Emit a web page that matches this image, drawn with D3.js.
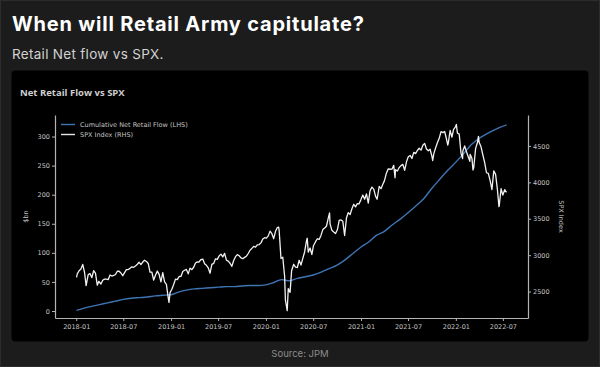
<!DOCTYPE html>
<html>
<head>
<meta charset="utf-8">
<script src="https://cdn.jsdelivr.net/npm/d3@7"></script>
<style>
  html, body { margin: 0; padding: 0; background: #1c1c1c; }
  svg { display: block; }
</style>
</head>
<body>
<svg id="chart"></svg>
<script>
// tick values
const flowTicks = [0, 50, 100, 150, 200, 250, 300];
const spxTicks = [2500, 3000, 3500, 4000, 4500];
const dateTicks = ["2018-01", "2018-07", "2019-01", "2019-07", "2020-01", "2020-07", "2021-01", "2021-07", "2022-01", "2022-07"];

// cumulative net retail flow, $bn (LHS)
const netFlow = [
    ["2018-01-02", 1], ["2018-02-01", 5], ["2018-03-01", 8], ["2018-04-01", 11], ["2018-05-01", 14],
    ["2018-06-01", 17], ["2018-07-01", 20], ["2018-08-01", 22], ["2018-09-01", 23], ["2018-10-01", 24],
    ["2018-11-01", 26], ["2018-12-01", 27], ["2019-01-01", 28], ["2019-02-01", 33], ["2019-03-01", 36],
    ["2019-04-01", 38], ["2019-05-01", 39], ["2019-06-01", 40], ["2019-07-01", 41], ["2019-08-01", 42],
    ["2019-09-01", 42], ["2019-10-01", 43], ["2019-11-01", 44], ["2019-12-01", 44], ["2020-01-01", 45],
    ["2020-02-01", 49], ["2020-03-01", 54], ["2020-04-01", 52], ["2020-05-01", 56], ["2020-06-01", 59],
    ["2020-07-01", 62], ["2020-08-01", 67], ["2020-09-01", 73], ["2020-10-01", 79], ["2020-11-01", 88],
    ["2020-12-01", 99], ["2021-01-01", 110], ["2021-02-01", 119], ["2021-03-01", 130], ["2021-04-01", 137],
    ["2021-05-01", 148], ["2021-06-01", 158], ["2021-07-01", 169], ["2021-08-01", 181], ["2021-09-01", 194],
    ["2021-10-01", 211], ["2021-11-01", 227], ["2021-12-01", 242], ["2022-01-01", 256], ["2022-02-01", 271],
    ["2022-03-01", 286], ["2022-04-01", 297], ["2022-05-01", 305], ["2022-06-01", 312], ["2022-07-15", 320]
];

// SPX index (RHS)
const spx = [
    ["2018-01-02", 2695], ["2018-01-05", 2743], ["2018-01-12", 2786], ["2018-01-19", 2810], ["2018-01-26", 2873],
    ["2018-02-02", 2762], ["2018-02-08", 2581], ["2018-02-16", 2732], ["2018-02-23", 2747], ["2018-03-02", 2691],
    ["2018-03-09", 2786], ["2018-03-16", 2752], ["2018-03-23", 2588], ["2018-03-29", 2641], ["2018-04-06", 2604],
    ["2018-04-13", 2656], ["2018-04-20", 2670], ["2018-04-27", 2670], ["2018-05-04", 2663], ["2018-05-11", 2728],
    ["2018-05-18", 2713], ["2018-05-25", 2721], ["2018-06-01", 2735], ["2018-06-08", 2779], ["2018-06-15", 2780],
    ["2018-06-22", 2755], ["2018-06-29", 2718], ["2018-07-06", 2760], ["2018-07-13", 2801], ["2018-07-20", 2802],
    ["2018-07-27", 2819], ["2018-08-03", 2840], ["2018-08-10", 2833], ["2018-08-17", 2850], ["2018-08-24", 2875],
    ["2018-08-31", 2902], ["2018-09-07", 2872], ["2018-09-14", 2905], ["2018-09-21", 2930], ["2018-09-28", 2914],
    ["2018-10-05", 2886], ["2018-10-12", 2767], ["2018-10-19", 2768], ["2018-10-26", 2659], ["2018-11-02", 2723],
    ["2018-11-09", 2781], ["2018-11-16", 2736], ["2018-11-23", 2633], ["2018-11-30", 2760], ["2018-12-07", 2633],
    ["2018-12-14", 2600], ["2018-12-21", 2417], ["2018-12-24", 2351], ["2018-12-28", 2486],
    ["2019-01-04", 2532], ["2019-01-11", 2596], ["2019-01-18", 2671], ["2019-01-25", 2665], ["2019-02-01", 2707],
    ["2019-02-08", 2708], ["2019-02-15", 2776], ["2019-02-22", 2793], ["2019-03-01", 2804], ["2019-03-08", 2743],
    ["2019-03-15", 2822], ["2019-03-22", 2801], ["2019-03-29", 2834], ["2019-04-05", 2893], ["2019-04-12", 2907],
    ["2019-04-18", 2905], ["2019-04-26", 2940], ["2019-05-03", 2946], ["2019-05-10", 2881], ["2019-05-17", 2860],
    ["2019-05-24", 2826], ["2019-05-31", 2752], ["2019-06-07", 2873], ["2019-06-14", 2887], ["2019-06-21", 2950],
    ["2019-06-28", 2942], ["2019-07-05", 2990], ["2019-07-12", 3014], ["2019-07-19", 2977], ["2019-07-26", 3025],
    ["2019-08-02", 2932], ["2019-08-09", 2919], ["2019-08-16", 2889], ["2019-08-23", 2847], ["2019-08-30", 2926],
    ["2019-09-06", 2979], ["2019-09-13", 3007], ["2019-09-20", 2992], ["2019-09-27", 2962], ["2019-10-04", 2952],
    ["2019-10-11", 2970], ["2019-10-18", 2986], ["2019-10-25", 3023], ["2019-11-01", 3067], ["2019-11-08", 3093],
    ["2019-11-15", 3120], ["2019-11-22", 3110], ["2019-11-29", 3141], ["2019-12-06", 3146], ["2019-12-13", 3169],
    ["2019-12-20", 3221], ["2019-12-27", 3240],
    ["2020-01-03", 3235], ["2020-01-10", 3265], ["2020-01-17", 3330], ["2020-01-24", 3295], ["2020-01-31", 3226],
    ["2020-02-07", 3328], ["2020-02-14", 3380], ["2020-02-19", 3386], ["2020-02-21", 3338], ["2020-02-28", 2954],
    ["2020-03-06", 2972], ["2020-03-13", 2711], ["2020-03-16", 2386], ["2020-03-20", 2305], ["2020-03-23", 2237],
    ["2020-03-27", 2541], ["2020-04-03", 2489], ["2020-04-09", 2790], ["2020-04-17", 2875], ["2020-04-24", 2837],
    ["2020-05-01", 2831], ["2020-05-08", 2930], ["2020-05-15", 2864], ["2020-05-22", 2955], ["2020-05-29", 3044],
    ["2020-06-05", 3194], ["2020-06-08", 3232], ["2020-06-12", 3041], ["2020-06-19", 3098], ["2020-06-26", 3009],
    ["2020-07-02", 3130], ["2020-07-10", 3185], ["2020-07-17", 3225], ["2020-07-24", 3216], ["2020-07-31", 3271],
    ["2020-08-07", 3351], ["2020-08-14", 3373], ["2020-08-21", 3397], ["2020-08-28", 3508], ["2020-09-02", 3580],
    ["2020-09-04", 3427], ["2020-09-11", 3341], ["2020-09-18", 3319], ["2020-09-25", 3298], ["2020-10-02", 3348],
    ["2020-10-09", 3477], ["2020-10-16", 3484], ["2020-10-23", 3465], ["2020-10-30", 3270], ["2020-11-06", 3510],
    ["2020-11-13", 3585], ["2020-11-20", 3558], ["2020-11-27", 3638], ["2020-12-04", 3699], ["2020-12-11", 3663],
    ["2020-12-18", 3709], ["2020-12-24", 3703], ["2020-12-31", 3756],
    ["2021-01-08", 3825], ["2021-01-15", 3768], ["2021-01-22", 3841], ["2021-01-29", 3714], ["2021-02-05", 3887],
    ["2021-02-12", 3934], ["2021-02-19", 3907], ["2021-02-26", 3811], ["2021-03-04", 3768], ["2021-03-12", 3943],
    ["2021-03-19", 3913], ["2021-03-26", 3975], ["2021-04-01", 4020], ["2021-04-09", 4129], ["2021-04-16", 4185],
    ["2021-04-23", 4180], ["2021-04-30", 4181], ["2021-05-07", 4233], ["2021-05-12", 4063], ["2021-05-14", 4174],
    ["2021-05-21", 4156], ["2021-05-28", 4204], ["2021-06-04", 4230], ["2021-06-11", 4247], ["2021-06-18", 4166],
    ["2021-06-25", 4281], ["2021-07-02", 4352], ["2021-07-09", 4370], ["2021-07-16", 4327], ["2021-07-23", 4412],
    ["2021-07-30", 4395], ["2021-08-06", 4437], ["2021-08-13", 4468], ["2021-08-20", 4442], ["2021-08-27", 4509],
    ["2021-09-03", 4535], ["2021-09-10", 4459], ["2021-09-17", 4433], ["2021-09-24", 4455], ["2021-10-01", 4357],
    ["2021-10-04", 4300], ["2021-10-08", 4391], ["2021-10-15", 4471], ["2021-10-22", 4545], ["2021-10-29", 4605],
    ["2021-11-05", 4697], ["2021-11-12", 4683], ["2021-11-19", 4698], ["2021-11-26", 4595], ["2021-12-01", 4513],
    ["2021-12-03", 4538], ["2021-12-10", 4712], ["2021-12-17", 4620], ["2021-12-23", 4725], ["2021-12-31", 4766],
    ["2022-01-03", 4796], ["2022-01-07", 4677], ["2022-01-14", 4662], ["2022-01-21", 4398], ["2022-01-27", 4326],
    ["2022-01-28", 4432], ["2022-02-04", 4500], ["2022-02-11", 4419], ["2022-02-18", 4349], ["2022-02-24", 4288],
    ["2022-02-25", 4385], ["2022-03-04", 4329], ["2022-03-08", 4170], ["2022-03-11", 4204], ["2022-03-18", 4463],
    ["2022-03-25", 4543], ["2022-03-29", 4631], ["2022-04-01", 4546], ["2022-04-08", 4488], ["2022-04-14", 4393],
    ["2022-04-22", 4272], ["2022-04-29", 4132], ["2022-05-06", 4123], ["2022-05-13", 4023], ["2022-05-20", 3901],
    ["2022-05-27", 4158], ["2022-06-03", 4109], ["2022-06-10", 3901], ["2022-06-16", 3667], ["2022-06-17", 3675],
    ["2022-06-24", 3912], ["2022-07-01", 3825], ["2022-07-08", 3899], ["2022-07-15", 3863]
];

const W = 600, H = 367;
const plot = { left: 55, right: 528, top: 115, bottom: 318 };
const parseDay = d3.utcParse("%Y-%m-%d");
const parseMonth = d3.utcParse("%Y-%m");
const tickFont = "DejaVu Sans, sans-serif";

const flowData = netFlow.map(([d, v]) => ({ date: parseDay(d), value: v }));
const spxData = spx.map(([d, v]) => ({ date: parseDay(d), value: v }));

const svg = d3.select("#chart").attr("width", W).attr("height", H);

// page + black chart panel
svg.append("rect").attr("x", 0.5).attr("y", 0.5).attr("width", W - 1).attr("height", H - 1)
    .attr("fill", "#1c1c1c").attr("stroke", "#2c2c2c");
svg.append("rect").attr("x", 11.5).attr("y", 70.5).attr("width", 577).attr("height", 271).attr("rx", 4)
    .attr("fill", "#000");

svg.append("text").attr("x", 12).attr("y", 31)
    .style("font-family", "Inter, sans-serif").style("font-weight", 700).style("font-size", "20px")
    .style("letter-spacing", "0.8px")
    .attr("fill", "#ffffff").text("When will Retail Army capitulate?");
svg.append("text").attr("x", 12).attr("y", 59)
    .style("font-family", "Inter, sans-serif").style("font-size", "13.5px").style("letter-spacing", "0.3px")
    .attr("fill", "#d2d2d2").text("Retail Net flow vs SPX.");
svg.append("text").attr("x", 300).attr("y", 357).attr("text-anchor", "middle")
    .style("font-family", "Inter, sans-serif").style("font-size", "9.5px")
    .attr("fill", "#8c8c8c").text("Source: JPM");

svg.append("text").attr("x", 20).attr("y", 96)
    .style("font-family", "Open Sans, sans-serif").style("font-weight", 700).style("font-size", "9.5px")
    .attr("fill", "#cfcfcf").text("Net Retail Flow vs SPX");

// scales
const dateExtent = d3.extent(spxData, d => d.date);
const pad = (dateExtent[1] - dateExtent[0]) * 0.05;
const x = d3.scaleUtc()
    .domain([new Date(+dateExtent[0] - pad), new Date(+dateExtent[1] + pad)])
    .range([plot.left, plot.right]);
const yFlow = d3.scaleLinear().domain([-12, 337]).range([plot.bottom, plot.top]);
const ySpx = d3.scaleLinear().domain([2137, 4925]).range([plot.bottom, plot.top]);

// axes
const xAxis = d3.axisBottom(x).tickValues(dateTicks.map(parseMonth))
    .tickFormat(d3.utcFormat("%Y-%m")).tickSize(3).tickSizeOuter(0).tickPadding(3);
const yAxisL = d3.axisLeft(yFlow).tickValues(flowTicks).tickSize(3).tickSizeOuter(0).tickPadding(2);
const yAxisR = d3.axisRight(ySpx).tickValues(spxTicks).tickFormat(d3.format("d"))
    .tickSize(3).tickSizeOuter(0).tickPadding(2);

function styleAxis(g) {
    g.select(".domain").attr("stroke", "#b4b4b4").attr("stroke-width", 1.2);
    g.selectAll(".tick line").attr("stroke", "#b4b4b4");
    g.selectAll(".tick text").attr("fill", "#c4c4c4")
        .style("font-family", tickFont).style("font-size", "6.5px");
}
svg.append("g").attr("transform", `translate(0,${plot.bottom})`).call(xAxis).call(styleAxis);
svg.append("g").attr("transform", `translate(${plot.left},0)`).call(yAxisL).call(styleAxis);
svg.append("g").attr("transform", `translate(${plot.right},0)`).call(yAxisR).call(styleAxis);

// axis titles
const midY = (plot.top + plot.bottom) / 2;
svg.append("text").attr("transform", `translate(28,${midY}) rotate(-90)`).attr("text-anchor", "middle")
    .style("font-family", tickFont).style("font-size", "6.5px").attr("fill", "#c4c4c4").text("$bn");
svg.append("text").attr("transform", `translate(559,${midY}) rotate(90)`).attr("text-anchor", "middle")
    .style("font-family", tickFont).style("font-size", "6.5px").attr("fill", "#c4c4c4").text("SPX Index");

// lines
const flowLine = d3.line().x(d => x(d.date)).y(d => yFlow(d.value)).curve(d3.curveMonotoneX);
const spxLine = d3.line().x(d => x(d.date)).y(d => ySpx(d.value));

svg.append("path").datum(flowData).attr("d", flowLine)
    .attr("fill", "none").attr("stroke", "#3f75b5").attr("stroke-width", 1.4);
svg.append("path").datum(spxData).attr("d", spxLine)
    .attr("fill", "none").attr("stroke", "#f2f2f2").attr("stroke-width", 1.3).attr("stroke-linejoin", "round");

// legend
const legend = [
    { label: "Cumulative Net Retail Flow (LHS)", color: "#3f75b5" },
    { label: "SPX Index (RHS)", color: "#e6e6e6" }
];
const lg = svg.append("g").attr("transform", "translate(61,124.5)");
legend.forEach((item, i) => {
    lg.append("line").attr("x1", 0).attr("x2", 14).attr("y1", i * 10).attr("y2", i * 10)
        .attr("stroke", item.color).attr("stroke-width", 1.4);
    lg.append("text").attr("x", 19).attr("y", i * 10 + 2.3)
        .style("font-family", tickFont).style("font-size", "6.5px").attr("fill", "#c4c4c4").text(item.label);
});
</script>
</body>
</html>
